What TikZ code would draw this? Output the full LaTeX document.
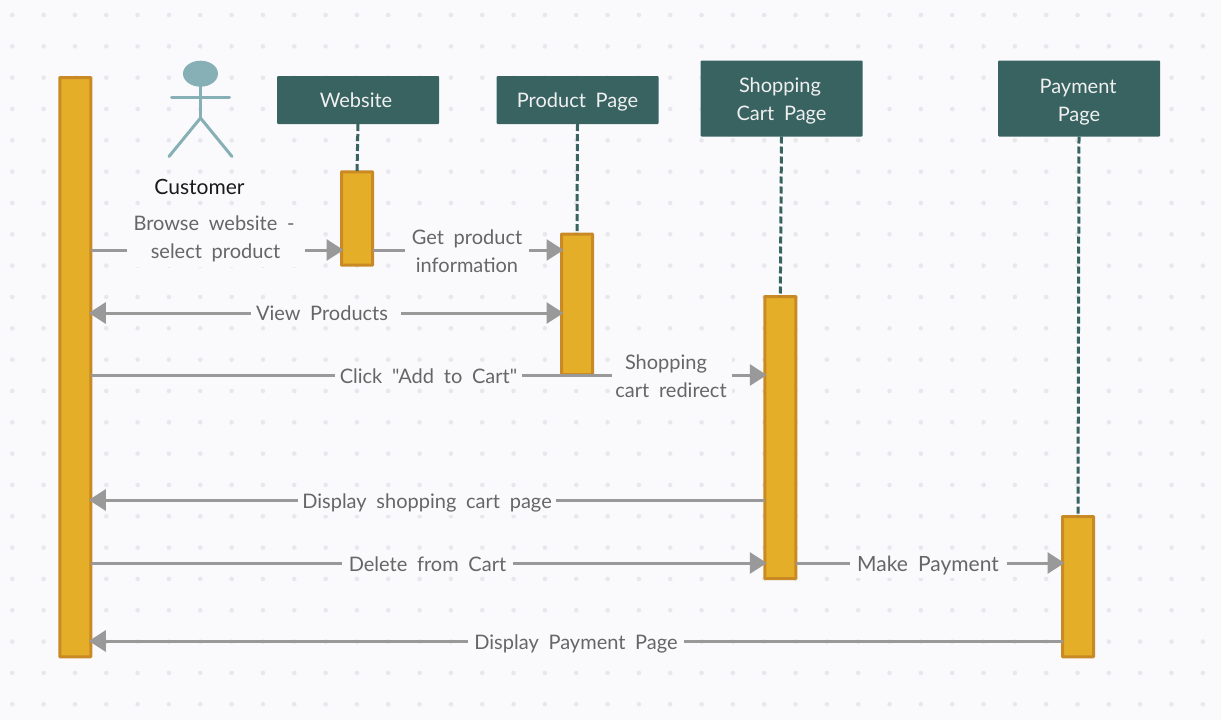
\documentclass[tikz,border=0pt]{standalone}
\usepackage{fontspec}
\setmainfont[WordSpace=1.9]{Lato}
\newfontfamily\rawlato[WordSpace=1.9]{Lato}
\usetikzlibrary{arrows.meta,shapes.geometric,calc}
\definecolor{bgc}{HTML}{FAFAFD}
\definecolor{dotc}{HTML}{E8E8EC}
\definecolor{barfill}{HTML}{E5AE28}
\definecolor{barline}{HTML}{C98A26}
\definecolor{headc}{HTML}{386361}
\definecolor{actorc}{HTML}{87B0B6}
\definecolor{msgc}{HTML}{999999}
\definecolor{txtc}{HTML}{666666}
\newcommand{\pushtext}[1]{\rule{0pt}{#1}}
\tikzset{
  bar/.style={draw=barline,fill=barfill,line width=3pt,rounded corners=0.5pt,inner sep=0,outer sep=0,anchor=north west,minimum width=31pt},
  head/.style={fill=headc,text=white!94!black,inner sep=0,outer sep=0,rounded corners=1pt,align=center,minimum width=162pt,font=\fontsize{20}{28}\selectfont},
  life/.style={draw=headc,line width=3pt,dash pattern=on 7pt off 3pt},
  msg/.style={draw=msgc,line width=3pt,shorten >=-2pt,-{Triangle[length=17pt,width=21pt]}},
  twomsg/.style={draw=msgc,line width=3pt,shorten >=-2pt,shorten <=-2pt,{Triangle[length=17pt,width=21pt]}-{Triangle[length=17pt,width=21pt]}},
  lab/.style={fill=bgc,text=txtc,inner sep=0,outer sep=0,align=center,font=\fontsize{20}{28}\selectfont},
  actorline/.style={draw=actorc,line width=3pt,line cap=round}
}
\begin{document}
\begin{tikzpicture}[x=1pt,y=-1pt]
\useasboundingbox (0,0) rectangle (1221,720);
\fill[bgc] (0,0) rectangle (1221,720);
\foreach \i in {0,...,38}{\foreach \j in {0,...,22}{
  \fill[dotc] ({12.3+31.33*\i},{15+31.33*\j}) circle[radius=2.3];
}}
% rows
\coordinate (r1) at (0,250);
\coordinate (r2) at (0,313);
\coordinate (r3) at (0,375);
\coordinate (r4) at (0,500);
\coordinate (r5) at (0,563);
\coordinate (r6) at (0,641);
% headers
\node[head,minimum height=48pt] (hweb) at (358,100) {Website\hspace*{4pt}};
\node[head,minimum height=48pt] (hprod) at (577.5,100) {\pushtext{19pt}Product Page};
\node[head,minimum height=76pt] (hcart) at (781.5,98.5) {\pushtext{19pt}Shopping\hspace*{3pt}\\Cart Page};
\node[head,minimum height=76pt] (hpay) at (1079,98.5) {\pushtext{21pt}Payment\hspace*{2pt}\\Page};
% bars
\node[bar,minimum height=579.3pt] (main) at (59.8,77.5) {};
\node[bar,minimum height=93.4pt] (web) at (341.5,171.8) {};
\node[bar,minimum height=140.5pt] (prod) at (561.5,234) {};
\node[bar,minimum height=282pt] (cart) at (764.8,296.5) {};
\node[bar,minimum height=140.3pt] (pay) at (1062.5,516.5) {};
% lifelines
\draw[life] (hweb.south) -- (web.north);
\draw[life] (hprod.south) -- (prod.north);
\draw[life] (hcart.south) -- (cart.north);
\draw[life] (hpay.south) -- (pay.north);
% actor
\node[ellipse,fill=actorc,minimum width=35pt,minimum height=26pt,inner sep=0,outer sep=0] (ahead) at (200.5,73.7) {};
\coordinate (ahip) at (200.5,118);
\coordinate (aarml) at (171.5,97);
\coordinate (aarmr) at (229.5,97);
\coordinate (alegl) at (169,156.5);
\coordinate (alegr) at (232,156.5);
\draw[actorline] (ahead.south) -- (ahip);
\draw[actorline] (aarml) -- (aarmr);
\draw[actorline] (alegl) -- (ahip) -- (alegr);
\node[text=black!90,inner sep=0,font=\fontsize{21}{24}\selectfont] (customer) at (199.5,187) {Customer};
% messages
\draw[msg] (main.east |- r1) -- (web.west |- r1);
\draw[msg] (web.east |- r1) -- (prod.west |- r1);
\draw[twomsg] (main.east |- r2) -- (prod.west |- r2);
\draw[msg] (main.east |- r3) -- (cart.west |- r3);
\draw[msg] (cart.west |- r4) -- (main.east |- r4);
\draw[msg] (main.east |- r5) -- (cart.west |- r5);
\draw[msg] (cart.east |- r5) -- (pay.west |- r5);
\draw[msg] (pay.west |- r6) -- (main.east |- r6);
% labels
\node[lab,minimum width=178pt,minimum height=56pt] (l1) at (215.5,238.5) {Browse website -\hspace*{3pt}\\select product};
\node[lab,minimum width=124pt,minimum height=56pt] (l2) at (467,251) {Get product\\information};
\node[lab,minimum width=150pt,minimum height=24pt] (l3) at (326,313) {View Products\hspace*{8pt}};
\node[lab,minimum width=187pt,minimum height=24pt] (l4) at (428.5,376) {{\rawlato Click "Add to Cart"}};
\node[lab,minimum width=120pt,minimum height=56pt] (l5) at (672,376.5) {Shopping\hspace*{12pt}\\cart redirect\hspace*{2pt}};
\node[lab,minimum width=258pt,minimum height=24pt] (l6) at (427,503) {Display shopping cart page};
\node[lab,minimum width=171pt,minimum height=24pt] (l7) at (427.5,564) {Delete from Cart};
\node[lab,minimum width=157pt,minimum height=24pt,font=\fontsize{21}{28}\selectfont] (l8) at (928,566) {Make Payment};
\node[lab,minimum width=216pt,minimum height=24pt] (l9) at (576,644) {Display Payment Page};
\end{tikzpicture}
\end{document}
